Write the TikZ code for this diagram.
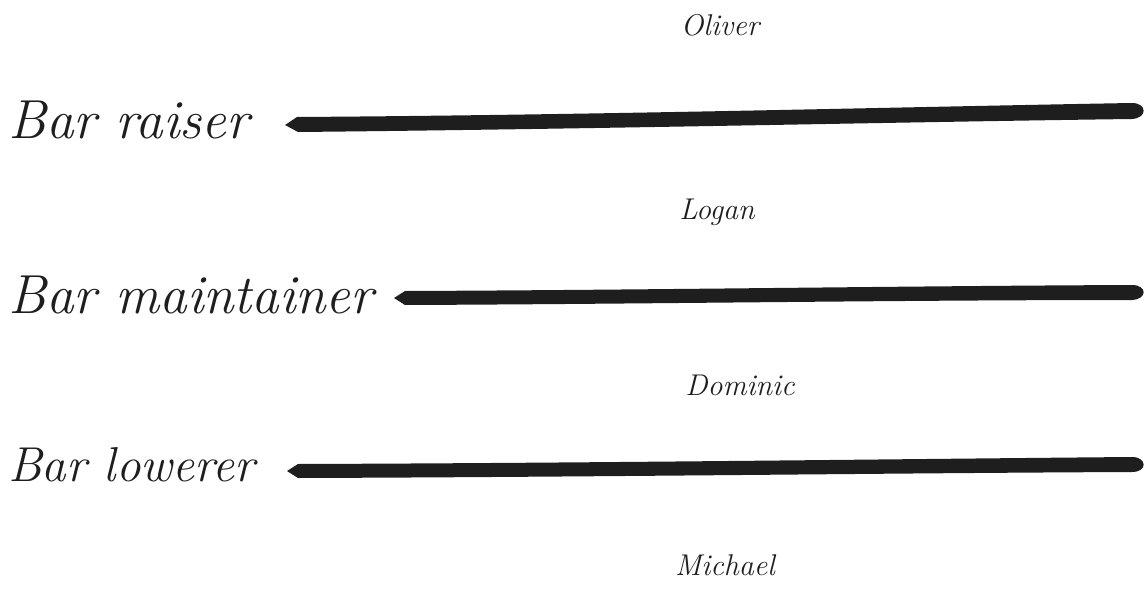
\documentclass[tikz,border=0pt]{standalone}
\usepackage{tikz}
\definecolor{ink}{HTML}{1E1E1E}
\begin{document}
\begin{tikzpicture}[x=1pt,y=-1pt,
  role/.style={anchor=west,inner sep=0pt,font=\fontsize{55}{60}\selectfont\itshape,text=ink},
  who/.style={inner sep=0pt,font=\fontsize{30}{34}\selectfont\itshape,text=ink},
  brushink/.style={fill=ink}]
\useasboundingbox (0,0) rectangle (1146,594);
\node[who] (oliver) at (720,25) {Oliver};
\node[role] (raiser) at (8,120) {Bar raiser};
\fill[brushink] (285,125) -- (297,117) .. controls (600,115) and (900,107) .. (1132,103)
  .. controls (1147,103) and (1148,118) .. (1132,119)
  .. controls (900,122) and (600,129) .. (298,132) -- cycle;
\node[who] (logan) at (717,212) {Logan};
\node[role] (maint) at (8,295) {Bar maintainer};
\fill[brushink] (394,298) -- (405,291) .. controls (650,290) and (900,286) .. (1132,285)
  .. controls (1147,285) and (1148,299) .. (1132,300)
  .. controls (900,300) and (650,304) .. (405,305) -- cycle;
\node[who] (dominic) at (740,385) {Dominic};
\node[role,font=\fontsize{49}{54}\selectfont\itshape] (lower) at (8,465) {Bar lowerer};
\fill[brushink] (287,471) -- (298,464) .. controls (600,463) and (900,459) .. (1132,457)
  .. controls (1147,457) and (1148,472) .. (1132,472)
  .. controls (900,473) and (600,477) .. (298,478) -- cycle;
\node[who] (michael) at (725,565) {Michael};
\end{tikzpicture}
\end{document}
